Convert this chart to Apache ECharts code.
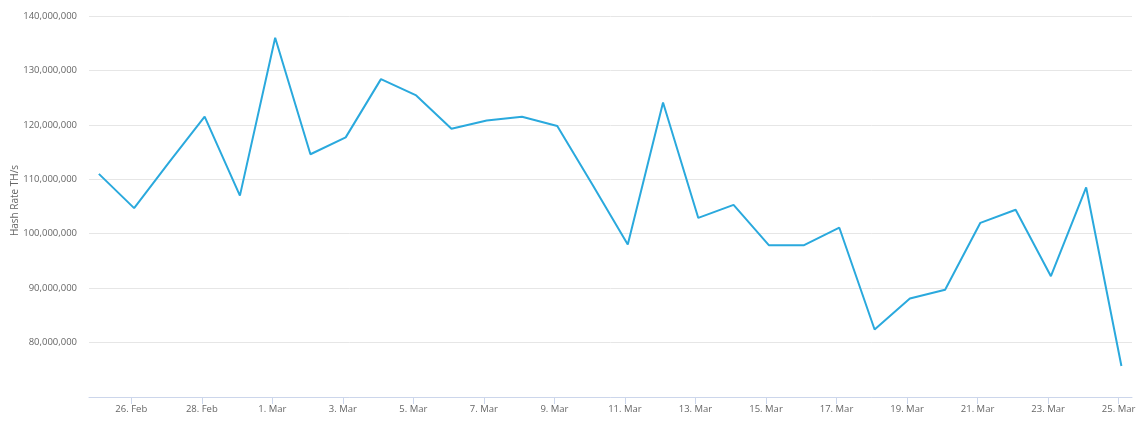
<!DOCTYPE html>
<html>
<head>
<meta charset="utf-8">
<script src="https://cdn.jsdelivr.net/npm/echarts@6/dist/echarts.min.js"></script>
<style>
  html, body { margin: 0; padding: 0; background: #fff; }
  #chart { width: 1140px; height: 424px; }
</style>
</head>
<body>
<div id="chart"></div>
<script>
// one point per day, 25 Feb .. 25 Mar (2020)
const dayLabels = [
  '25. Feb', '26. Feb', '27. Feb', '28. Feb', '29. Feb',
  '1. Mar', '2. Mar', '3. Mar', '4. Mar', '5. Mar', '6. Mar', '7. Mar', '8. Mar',
  '9. Mar', '10. Mar', '11. Mar', '12. Mar', '13. Mar', '14. Mar', '15. Mar',
  '16. Mar', '17. Mar', '18. Mar', '19. Mar', '20. Mar', '21. Mar', '22. Mar',
  '23. Mar', '24. Mar', '25. Mar'
];
const hashRate = [
  111.0, 104.7, 113.2, 121.5, 107.0,
  136.0, 114.6, 117.7, 128.4, 125.4, 119.3, 120.8, 121.5,
  119.8, 109.0, 98.0, 124.1, 102.9, 105.3, 97.9,
  97.9, 101.1, 82.4, 88.1, 89.7, 102.0, 104.4,
  92.2, 108.5, 75.7
].map(v => v * 1e6);
// every second day gets a label
const tickDays = [1, 3, 5, 7, 9, 11, 13, 15, 17, 19, 21, 23, 25, 27, 29];

const fmt = n => n.toString().replace(/\B(?=(\d{3})+(?!\d))/g, ',');

let drawCharts = echarts.init(document.getElementById('chart'));
let option = {
  animation: false,
  textStyle: { fontFamily: 'Open Sans' },
  grid: { left: 89, right: 8, top: 16, bottom: 27, outerBoundsMode: 'none', containLabel: false },
  xAxis: {
    type: 'value',
    min: -0.28,
    max: 29.3,
    splitLine: { show: false },
    axisLine: { show: true, lineStyle: { color: '#ccd6eb', width: 1 } },
    axisTick: {
      show: true,
      length: 7,
      lineStyle: { color: '#ccd6eb' },
      customValues: tickDays.map(d => d - 0.08)
    },
    axisLabel: {
      color: '#666666',
      fontSize: 9.5,
      margin: 7,
      customValues: tickDays.map(d => d - 0.08),
      formatter: v => dayLabels[Math.round(v)]
    }
  },
  yAxis: {
    type: 'value',
    min: 70e6,
    max: 140e6,
    interval: 10e6,
    name: 'Hash Rate TH/s',
    nameLocation: 'middle',
    nameRotate: 90,
    nameGap: 69,
    nameMoveOverlap: false,
    nameTextStyle: { color: '#666666', fontSize: 10, padding: [0, 0, 0, 12] },
    axisLine: { show: false },
    axisTick: { show: false },
    splitLine: { lineStyle: { color: '#e6e6e6', width: 1 } },
    axisLabel: {
      color: '#666666',
      fontSize: 9.5,
      margin: 12,
      formatter: v => v === 70e6 ? '' : fmt(v)
    }
  },
  series: [
    {
      type: 'line',
      data: hashRate.map((v, i) => [i, v]),
      showSymbol: false,
      lineStyle: { color: '#2aa9dd', width: 2 },
      itemStyle: { color: '#2aa9dd' }
    }
  ]
};
drawCharts.setOption(option);
</script>
</body>
</html>
